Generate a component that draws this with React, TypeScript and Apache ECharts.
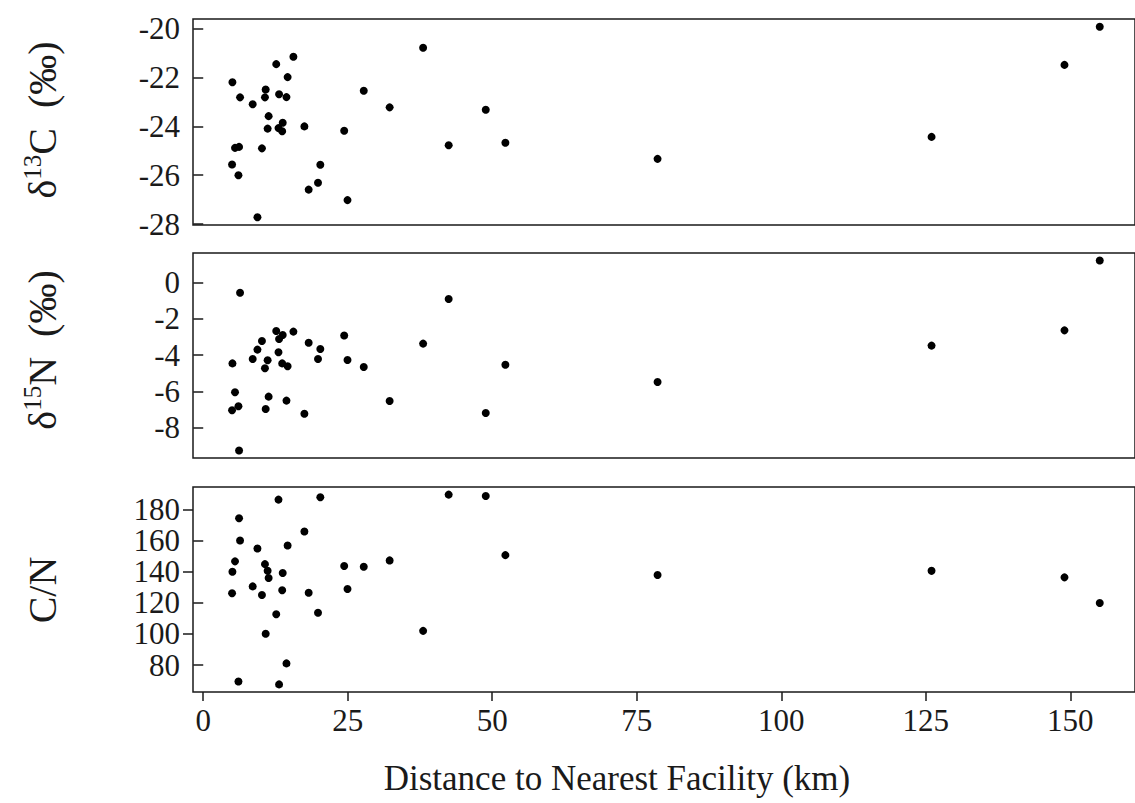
import React, { useEffect, useRef } from "react";
import * as echarts from "echarts";

// Sampling sites: distance to the nearest facility (km) and measured values
const distanceKm = [
  4.99, 5.05, 5.5, 6.09, 6.2, 6.37, 8.56, 9.38, 10.16, 10.68, 10.8, 11.14, 11.31,
  12.63, 13.02, 13.12, 13.66, 13.75, 14.4, 14.6, 15.6, 17.5, 18.24, 19.86, 20.26,
  24.39, 24.96, 27.77, 32.25, 38.04, 42.46, 48.88, 52.27, 78.6, 126.0, 149.0, 155.1,
];

const delta13C = [
  -25.56, -22.19, -24.88, -26.0, -24.84, -22.81, -23.09, -27.72, -24.9, -22.81,
  -22.49, -24.09, -23.58, -21.45, -24.07, -22.68, -24.2, -23.85, -22.8, -21.98,
  -21.15, -24.0, -26.59, -26.31, -25.57, -24.18, -27.02, -22.54, -23.22, -20.78,
  -24.77, -23.32, -24.67, -25.33, -24.43, -21.48, -19.92,
];

const delta15N = [
  -7.04, -4.46, -6.05, -6.82, -9.26, -0.57, -4.22, -3.7, -3.23, -4.73, -6.97,
  -4.29, -6.29, -2.68, -3.85, -3.12, -4.46, -2.9, -6.51, -4.62, -2.71, -7.23,
  -3.32, -4.22, -3.67, -2.92, -4.27, -4.66, -6.53, -3.37, -0.91, -7.19, -4.53,
  -5.48, -3.48, -2.64, 1.21,
];

const cnRatio: (number | null)[] = [
  126.2, 140.0, 146.7, 69.5, 174.4, 160.1, 130.6, 155.0, 125.1, 144.9, 100.1,
  140.6, 136.0, 112.7, 186.4, 67.6, 128.1, 139.2, 81.1, 156.9, null, 165.9, 126.5,
  113.7, 187.9, 143.7, 128.9, 143.2, 147.3, 102.0, 189.6, 188.7, 150.7, 137.9,
  140.6, 136.4, 119.9,
];

// Tick labels
const xTicks = [0, 25, 50, 75, 100, 125, 150];
const cTicks = [-28, -26, -24, -22, -20];
const nTicks = [-8, -6, -4, -2, 0];
const cnTicks = [80, 100, 120, 140, 160, 180];

const xTitle = "Distance to Nearest Facility (km)";

const FONT = "'Liberation Serif', 'Times New Roman', serif";
const INK = "#1a1a1a";

const pairs = (vals: (number | null)[]) =>
  distanceKm
    .map((d, i) => [d, vals[i]])
    .filter((p) => p[1] !== null && p[1] !== undefined);

export default function App() {
  const ref = useRef<HTMLDivElement>(null);

  useEffect(() => {
    if (!ref.current) return;
    const chart = echarts.init(ref.current, undefined, { renderer: "svg" });

    const left = 193;
    const width = 947;
    const panels = [
      { top: 19, height: 206, min: -28.04, max: -19.6, ticks: cTicks, data: pairs(delta13C) },
      { top: 253, height: 205, min: -9.67, max: 1.62, ticks: nTicks, data: pairs(delta15N) },
      { top: 487, height: 205, min: 62.7, max: 194.5, ticks: cnTicks, data: pairs(cnRatio) },
    ];
    const xMin = -1.77;
    const xMax = 161.2;

    const labelStyle = { fontFamily: FONT, fontSize: 31, color: INK };

    // The C/N ticks sit close together, so they are split over two
    // coincident axes (alternate ticks) to keep every label visible.
    const yAxisDefs = [
      { grid: 0, ticks: cTicks },
      { grid: 1, ticks: nTicks },
      { grid: 2, ticks: cnTicks.filter((_, k) => k % 2 === 0) },
      { grid: 2, ticks: cnTicks.filter((_, k) => k % 2 === 1) },
    ];

    const option: any = {
      animation: false,
      backgroundColor: "#fff",
      grid: panels.map((p) => ({
        left,
        width,
        top: p.top,
        height: p.height,
        show: true,
        borderColor: INK,
        borderWidth: 1.5,
        backgroundColor: "transparent",
      })),
      xAxis: panels.map((p, i) => ({
        type: "value",
        gridIndex: i,
        min: xMin,
        max: xMax,
        splitLine: { show: false },
        axisLine: { show: false },
        axisTick: {
          show: i === 2,
          length: 9,
          inside: false,
          lineStyle: { color: INK, width: 1.5 },
          customValues: xTicks,
        },
        axisLabel: {
          show: i === 2,
          margin: 13,
          customValues: xTicks,
          ...labelStyle,
        },
      })),
      yAxis: yAxisDefs.map((a) => ({
        type: "value",
        gridIndex: a.grid,
        position: "left",
        offset: 0,
        min: panels[a.grid].min,
        max: panels[a.grid].max,
        splitLine: { show: false },
        axisLine: { show: false },
        axisTick: {
          show: true,
          length: 10,
          inside: false,
          lineStyle: { color: INK, width: 1.5 },
          customValues: a.ticks,
        },
        axisLabel: {
          show: true,
          margin: 13,
          showMinLabel: true,
          showMaxLabel: true,
          customValues: a.ticks,
          ...labelStyle,
        },
      })),
      series: panels.map((p, i) => ({
        type: "scatter",
        xAxisIndex: i,
        yAxisIndex: i,
        symbol: "circle",
        symbolSize: 8,
        itemStyle: { color: "#000", opacity: 1 },
        data: p.data,
      })),
      graphic: [
        {
          type: "text",
          x: 617,
          y: 778,
          style: {
            text: xTitle,
            fontFamily: FONT,
            fontSize: 35,
            fill: INK,
            align: "center",
            verticalAlign: "middle",
          },
        },
        ...[
          { y: 120, text: "{n|δ}{s|13}{n|C  (‰)}" },
          { y: 350, text: "{n|δ}{s|15}{n|N  (‰)}" },
          { y: 590, text: "{n|C/N}" },
        ].map((t) => ({
          type: "text",
          x: 42,
          y: t.y,
          rotation: Math.PI / 2,
          style: {
            text: t.text,
            align: "center",
            verticalAlign: "middle",
            fill: INK,
            rich: {
              n: { fontFamily: FONT, fontSize: 40, fill: INK, lineHeight: 44 },
              s: {
                fontFamily: FONT,
                fontSize: 25,
                fill: INK,
                lineHeight: 44,
                verticalAlign: "top",
              },
            },
          },
        })),
      ],
    };

    chart.setOption(option);
    return () => chart.dispose();
  }, []);

  return (
    <div
      ref={ref}
      style={{ position: "absolute", left: 0, top: 0, width: 1135, height: 803 }}
    />
  );
}
